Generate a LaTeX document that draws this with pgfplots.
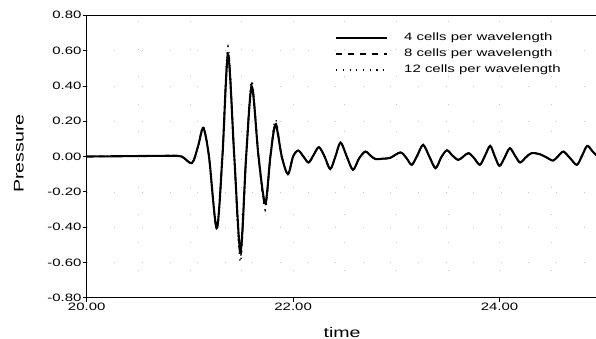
\documentclass[border=0pt]{standalone}
\usepackage{fontspec}
\setmainfont{Liberation Sans}[FakeStretch=1.4]
\usepackage{pgfplots}
\usepackage{pgfplotstable}
\pgfplotsset{compat=1.18}

% time, 4 cells, 8 cells, 12 cells
\pgfplotstableread{
t      pa      pb      pc
20.00  0.000   0.000   0.000
20.40  0.002   0.002   0.002
20.80  0.004   0.004   0.004
20.92  0.000   0.000   0.000
21.02 -0.037  -0.037  -0.037
21.08  0.060   0.060   0.060
21.13  0.160   0.165   0.170
21.185 0.000   0.000   0.000
21.26 -0.405  -0.412  -0.420
21.315 0.000   0.000   0.000
21.37  0.575   0.600   0.625
21.43  0.000   0.000   0.000
21.49 -0.537  -0.570  -0.600
21.545 0.000   0.000   0.000
21.60  0.396   0.415   0.430
21.665 0.000   0.000   0.000
21.73 -0.264  -0.285  -0.305
21.78  0.000   0.000   0.000
21.83  0.180   0.195   0.210
21.89  0.000   0.000   0.000
21.95 -0.100  -0.100  -0.100
22.00  0.000   0.000   0.000
22.05  0.034   0.034   0.034
22.10  0.000   0.000   0.000
22.15 -0.034  -0.034  -0.034
22.20  0.010   0.010   0.010
22.25  0.053   0.053   0.053
22.305 0.000   0.000   0.000
22.36 -0.071  -0.071  -0.071
22.41  0.000   0.000   0.000
22.46  0.079   0.079   0.079
22.52  0.000   0.000   0.000
22.58 -0.075  -0.075  -0.075
22.64 -0.010  -0.010  -0.010
22.70  0.028   0.028   0.028
22.75  0.005   0.005   0.005
22.80 -0.015  -0.015  -0.015
22.87 -0.012  -0.012  -0.012
22.94 -0.008  -0.008  -0.008
23.04  0.023   0.023   0.023
23.10 -0.010  -0.010  -0.010
23.15 -0.047  -0.047  -0.047
23.205 0.008   0.008   0.008
23.26  0.066   0.066   0.066
23.32  0.000   0.000   0.000
23.38 -0.066  -0.066  -0.066
23.435 -0.005 -0.005  -0.005
23.49  0.035   0.035   0.035
23.545 0.005   0.005   0.005
23.60 -0.019  -0.019  -0.019
23.65  0.000   0.000   0.000
23.70  0.019   0.019   0.019
23.755 -0.010 -0.010  -0.010
23.81 -0.047  -0.047  -0.047
23.86  0.005   0.005   0.005
23.91  0.060   0.060   0.060
23.955 0.000   0.000   0.000
24.00 -0.053  -0.053  -0.053
24.05 -0.005  -0.005  -0.005
24.10  0.047   0.047   0.047
24.15  0.005   0.005   0.005
24.20 -0.034  -0.034  -0.034
24.255 -0.005 -0.005  -0.005
24.31  0.019   0.019   0.019
24.39  0.013   0.013   0.013
24.455 -0.005 -0.005  -0.005
24.52 -0.023  -0.023  -0.023
24.57  0.003   0.003   0.003
24.62  0.028   0.028   0.028
24.685 -0.010 -0.010  -0.010
24.75 -0.047  -0.047  -0.047
24.80  0.005   0.005   0.005
24.85  0.060   0.060   0.060
24.90  0.030   0.030   0.030
24.95  0.000   0.000   0.000
25.00 -0.030  -0.030  -0.030
}\pressdata

\begin{document}
\begin{tikzpicture}
\path[use as bounding box] (-86.7bp,-41.3bp) rectangle (509.3bp,297.7bp);
\begin{axis}[
  scale only axis,
  width=516bp, height=282.4bp,
  xmin=20, xmax=25, ymin=-0.8, ymax=0.8,
  xtick={20,22,24},
  ytick={-0.8,-0.6,-0.4,-0.2,0,0.2,0.4,0.6,0.8},
  minor xtick={20.5,21,21.5,22.5,23,23.5,24.5},
  grid=both,
  major grid style={gray!45, line width=0.5bp, dash pattern=on 0.6bp off 27bp},
  minor grid style={gray!45, line width=0.5bp, dash pattern=on 0.6bp off 27bp},
  minor tick length=0pt,
  tick align=outside,
  major tick length=4bp,
  xtick pos=bottom, ytick pos=left,
  axis line style={line width=0.9bp},
  every tick/.style={black, line width=0.7bp},
  /pgf/number format/assume math mode=true,
  xticklabel style={/pgf/number format/fixed, /pgf/number format/fixed zerofill, /pgf/number format/precision=2, font=\fontsize{10.7bp}{12bp}\selectfont, inner ysep=1bp},
  yticklabel style={/pgf/number format/fixed, /pgf/number format/fixed zerofill, /pgf/number format/precision=2, font=\fontsize{10.7bp}{12bp}\selectfont, inner xsep=1bp},
  xlabel={time}, ylabel={Pressure},
  every axis x label/.style={at={(axis description cs:0.495,0)}, anchor=center, yshift=-34.3bp, font=\fontsize{14bp}{16bp}\selectfont},
  every axis y label/.style={at={(axis description cs:-0.1312,0.51)}, rotate=90, anchor=center, font=\fontsize{14bp}{16bp}\selectfont},
  legend cell align=left,
  legend image code/.code={\draw[#1] (0bp,0bp) -- (51bp,0bp);},
  legend style={at={(rel axis cs:0.481,0.948)}, anchor=north west, draw=none, fill=none, inner sep=0pt,
    font=\fontsize{10.7bp}{12bp}\selectfont, column sep=15bp, row sep=0bp,
    nodes={inner xsep=1bp, inner ysep=2.5bp, text height=8bp, text depth=3bp}},
]
\addplot[black, line width=2.1bp, smooth] table[x=t, y=pa] {\pressdata};
\addlegendentry{4 cells per wavelength}
\addplot[black, line width=1.4bp, smooth, dash pattern=on 6bp off 6bp] table[x=t, y=pb] {\pressdata};
\addlegendentry{8 cells per wavelength}
\addplot[black, line width=1.4bp, smooth, dash pattern=on 1.2bp off 5.5bp] table[x=t, y=pc] {\pressdata};
\addlegendentry{12 cells per wavelength}
\end{axis}
\end{tikzpicture}
\end{document}
